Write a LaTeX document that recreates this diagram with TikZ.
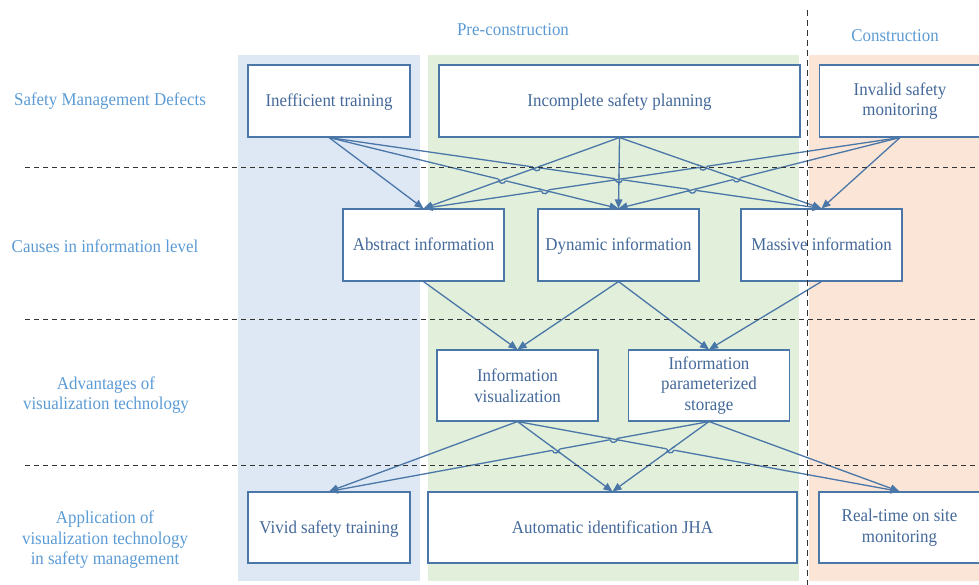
\documentclass[tikz,border=0pt]{standalone}
\usepackage{fontspec}
\setmainfont{Liberation Serif}[FakeStretch=0.94]
\usetikzlibrary{arrows.meta,calc,intersections}

\definecolor{linkblue}{HTML}{4A76A8}
\definecolor{boxtext}{HTML}{44699A}
\definecolor{rowlabel}{HTML}{5B9BD5}
\definecolor{bandblue}{HTML}{DEE8F4}
\definecolor{bandgreen}{HTML}{E2EFDA}
\definecolor{bandpeach}{HTML}{FBE5D6}
\definecolor{rulegray}{HTML}{333333}

% invisible rule giving single-line labels a fixed height and depth
\newcommand\lblstrut{\rule[-4pt]{0pt}{19pt}}

% A line hop: the first line jumps over the second one at a crossing.
% #1 crossing, #2/#3 left/right ends of the jumping line,
% #4/#5 ends of the line underneath, #6 background colour
\newcommand\linehop[6]{%
  \draw[#6, line width=3pt] ($(#1)!3.8pt!(#2)$) -- ($(#1)!3.8pt!(#3)$);
  \draw[linkblue, line width=1.3pt] ($(#1)!5.5pt!(#4)$) -- ($(#1)!5.5pt!(#5)$);
  \draw[linkblue, line width=1.3pt] ($(#1)!3.5pt!(#2)$) to[bend right=90, looseness=1.6] ($(#1)!3.5pt!(#3)$);
}
\newcommand\relink[3]{%
  \draw[linkblue, line width=1.3pt] ($(#1)!5.5pt!(#2)$) -- ($(#1)!5.5pt!(#3)$);
}

\begin{document}
\begin{tikzpicture}[x=1pt,y=-1pt,
  box/.style={draw=linkblue, line width=1.1pt, fill=white, text=boxtext,
    align=center, inner sep=0pt, font=\fontsize{18}{20.5}\selectfont},
  rowlbl/.style={text=rowlabel, align=center, inner sep=0pt,
    font=\fontsize{18}{20.5}\selectfont},
  link/.style={draw=linkblue, line width=1.3pt,
    -{Triangle[length=9pt,width=7.5pt]}},
  sep/.style={draw=rulegray, line width=1pt, dash pattern=on 5pt off 4pt},
]
\useasboundingbox (0,0) rectangle (979,585);

% phase bands
\fill[bandblue]  (238,55) rectangle (420,581);
\fill[bandgreen] (428,55) rectangle (799,581);
\fill[bandpeach] (809,55) rectangle (979,581);

% phase headings
\node[rowlbl] (hpre) at (513,30) {\lblstrut Pre-construction};
\node[rowlbl] (hcon) at (895,36) {\lblstrut Construction};

% row headings
\node[rowlbl] (r1) at (110,100) {\lblstrut Safety Management Defects};
\node[rowlbl] (r2) at (105,247) {\lblstrut Causes in information level};
\node[rowlbl] (r3) at (106,395) {Advantages of\\visualization technology};
\node[rowlbl] (r4) at (105,540) {Application of\\visualization technology\\in safety management};

% boxes
\node[box, minimum width=162pt, minimum height=72pt] (ineff)   at (329,101)   {\lblstrut Inefficient training};
\node[box, minimum width=361pt, minimum height=72pt] (plan)    at (619.5,101) {\lblstrut Incomplete safety planning};
\node[box, minimum width=161pt, minimum height=72pt] (invalid) at (900,101)   {Invalid safety\\monitoring};

\node[box, minimum width=161pt, minimum height=72pt] (abs)  at (423.5,245) {\lblstrut Abstract information};
\node[box, minimum width=161pt, minimum height=72pt] (dyn)  at (618.5,245) {\lblstrut Dynamic information};
\node[box, minimum width=161pt, minimum height=72pt] (mass) at (821.5,245) {\lblstrut Massive information};

\node[box, minimum width=161pt, minimum height=71pt] (vis) at (517.5,385.5) {Information\\visualization};
\node[box, minimum width=161pt, minimum height=71pt] (par) at (709,385.5)   {Information\\parameterized\\storage};

\node[box, minimum width=162pt, minimum height=71pt] (vivid) at (329,527.5)   {\lblstrut Vivid safety training};
\node[box, minimum width=369pt, minimum height=71pt] (auto)  at (612.5,527.5) {\lblstrut Automatic identification JHA};
\node[box, minimum width=161pt, minimum height=71pt] (real)  at (899.5,527.5) {Real-time on site\\monitoring};

% defects -> causes
\draw[link, name path=IA] (ineff.south) -- (abs.north);
\draw[link, name path=ID] (ineff.south) -- (dyn.north);
\draw[link, name path=IM] (ineff.south) -- (mass.north);
\draw[link, name path=PA] (plan.south) -- (abs.north);
\draw[link, name path=PD] (plan.south) -- (dyn.north);
\draw[link, name path=PM] (plan.south) -- (mass.north);
\draw[link, name path=VA] (invalid.south) -- (abs.north);
\draw[link, name path=VD] (invalid.south) -- (dyn.north);
\draw[link, name path=VM] (invalid.south) -- (mass.north);

% causes -> advantages
\draw[link] (abs.south) -- (vis.north);
\draw[link] (dyn.south) -- (vis.north);
\draw[link] (dyn.south) -- (par.north);
\draw[link] (mass.south) -- (par.north);

% advantages -> applications
\draw[link, name path=XV] (vis.south) -- (vivid.north);
\draw[link, name path=XA] (vis.south) -- (auto.north);
\draw[link, name path=XR] (vis.south) -- (real.north);
\draw[link, name path=YV] (par.south) -- (vivid.north);
\draw[link, name path=YA] (par.south) -- (auto.north);
\draw[link, name path=YR] (par.south) -- (real.north);

% crossings
\path[name intersections={of=ID and PA, by=c1}];
\path[name intersections={of=IM and PA, by=c2}];
\path[name intersections={of=IM and PD, by=c3}];
\path[name intersections={of=ID and VA, by=c4}];
\path[name intersections={of=IM and VD, by=c6}];
\path[name intersections={of=PM and VA, by=c8}];
\path[name intersections={of=PM and VD, by=c9}];
\path[name intersections={of=XA and YV, by=d1}];
\path[name intersections={of=XR and YV, by=d2}];
\path[name intersections={of=XR and YA, by=d3}];

\linehop{c1}{ineff.south}{dyn.north}{plan.south}{abs.north}{bandgreen}
\linehop{c2}{ineff.south}{mass.north}{plan.south}{abs.north}{bandgreen}
\linehop{c3}{ineff.south}{mass.north}{plan.south}{dyn.north}{bandgreen}
\relink{c3}{invalid.south}{abs.north}
\linehop{c4}{abs.north}{invalid.south}{ineff.south}{dyn.north}{bandgreen}
\linehop{c6}{ineff.south}{mass.north}{invalid.south}{dyn.north}{bandgreen}
\linehop{c8}{abs.north}{invalid.south}{plan.south}{mass.north}{bandgreen}
\linehop{c9}{dyn.north}{invalid.south}{plan.south}{mass.north}{bandgreen}
\linehop{d1}{vivid.north}{par.south}{vis.south}{auto.north}{bandgreen}
\linehop{d2}{vivid.north}{par.south}{vis.south}{real.north}{bandgreen}
\linehop{d3}{vis.south}{real.north}{par.south}{auto.north}{bandgreen}

% row and phase separators
\coordinate (s1a) at (25,168);  \coordinate (s1b) at (979,168);
\coordinate (s2a) at (25,319);  \coordinate (s2b) at (979,319);
\coordinate (s3a) at (25,465);  \coordinate (s3b) at (979,465);
\coordinate (pa) at (807,10);   \coordinate (pb) at (807,585);
\draw[sep] (s1a) -- (s1b);
\draw[sep] (s2a) -- (s2b);
\draw[sep] (s3a) -- (s3b);
\draw[sep, line width=0.9pt, dash pattern=on 6pt off 4pt] (pa) -- (pb);
\end{tikzpicture}
\end{document}
